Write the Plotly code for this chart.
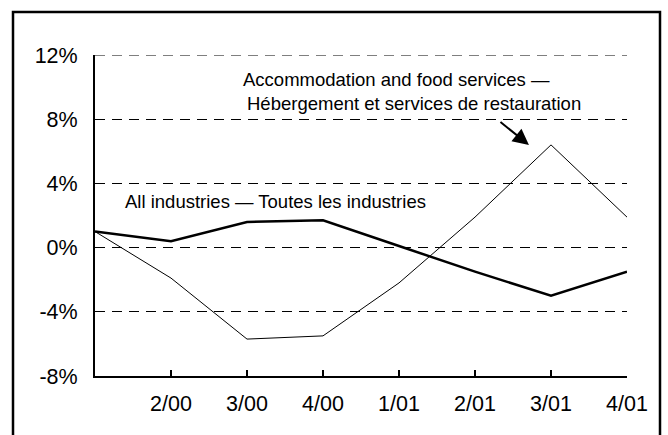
import plotly.graph_objects as go

# Quarterly percentage change, 1/00 to 4/01
quarters = ["1/00", "2/00", "3/00", "4/00", "1/01", "2/01", "3/01", "4/01"]
tick_labels = ["", "2/00", "3/00", "4/00", "1/01", "2/01", "3/01", "4/01"]
all_industries = [1.0, 0.4, 1.6, 1.7, 0.1, -1.5, -3.0, -1.5]
accommodation_food = [1.0, -1.9, -5.7, -5.5, -2.2, 1.9, 6.4, 1.9]

y_ticks = [-8, -4, 0, 4, 8, 12]
y_tick_labels = ["-8%", "-4%", "0%", "4%", "8%", "12%"]

W, H = 668, 435
ML, MR, MT, MB = 95, 41, 55, 59
FONT = "Liberation Sans, Arial, sans-serif"

x = list(range(len(quarters)))

fig = go.Figure()
fig.add_trace(go.Scatter(
    x=x, y=accommodation_food, mode="lines",
    line=dict(color="black", width=1), name="Accommodation and food services",
    hoverinfo="skip",
))
fig.add_trace(go.Scatter(
    x=x, y=all_industries, mode="lines",
    line=dict(color="black", width=2.5), name="All industries",
    hoverinfo="skip",
))

# Outer frame around the whole chart, in paper units of the plot area
pw, ph = W - ML - MR, H - MT - MB
def px_x(p):
    return (p - ML) / pw
def px_y(p):
    return (H - MB - p) / ph

fig.add_shape(type="rect", xref="paper", yref="paper",
              x0=px_x(13), x1=px_x(660), y0=px_y(445), y1=px_y(12),
              line=dict(color="black", width=2.5), layer="above")

# Top gridline sits on the plot edge, so draw it explicitly
fig.add_shape(type="line", xref="paper", yref="y", x0=0, x1=1,
              y0=y_ticks[-1], y1=y_ticks[-1],
              line=dict(color="black", width=1, dash="10px,7px"))

label_font = dict(family=FONT, size=18.5, color="black")
fig.add_annotation(x=1.92, y=10.5, text="Accommodation and food services —",
                   showarrow=False, xanchor="left", yanchor="middle", font=label_font)
fig.add_annotation(x=1.97, y=9.0, text="Hébergement et services de restauration",
                   showarrow=False, xanchor="left", yanchor="middle", font=label_font)
fig.add_annotation(x=0.37, y=2.9, text="All industries — Toutes les industries",
                   showarrow=False, xanchor="left", yanchor="middle", font=label_font)

# Pointer to the peak of the accommodation series
peak = accommodation_food.index(max(accommodation_food))
fig.add_annotation(x=peak - 0.29, y=accommodation_food[peak], text="",
                   showarrow=True, arrowhead=2, arrowsize=1.6, arrowwidth=2,
                   arrowcolor="black", ax=-30, ay=-24, standoff=0)

fig.update_layout(
    width=W, height=H,
    margin=dict(l=ML, r=MR, t=MT, b=MB),
    paper_bgcolor="white", plot_bgcolor="white",
    showlegend=False,
    font=dict(family=FONT, color="black"),
)
fig.update_xaxes(
    range=[0, len(quarters) - 1],
    tickvals=x, ticktext=tick_labels,
    showgrid=False, zeroline=False,
    showline=True, linecolor="black", linewidth=2,
    ticks="inside", ticklen=6, tickwidth=2, tickcolor="black",
    ticklabelstandoff=7,
    tickfont=dict(family=FONT, size=21.5, color="black"),
)
fig.update_yaxes(
    range=[y_ticks[0], y_ticks[-1]],
    tickvals=y_ticks, ticktext=y_tick_labels,
    showgrid=True, gridcolor="black", gridwidth=1, griddash="10px,7px",
    zeroline=False,
    showline=True, linecolor="black", linewidth=2,
    ticks="", ticklabelstandoff=11,
    tickfont=dict(family=FONT, size=21.5, color="black"),
)

fig.write_html("out.html")
